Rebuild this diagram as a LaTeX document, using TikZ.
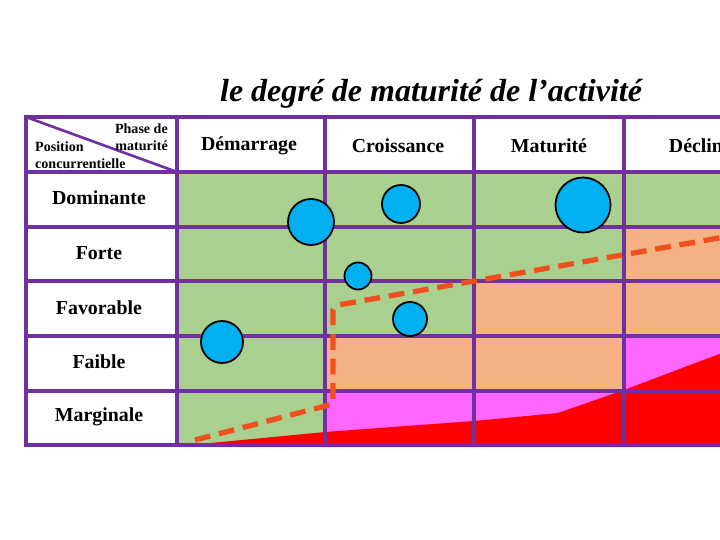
\documentclass[tikz,border=0pt]{standalone}
\usepackage{fontspec}
\setmainfont{Liberation Serif}
\begin{document}
\definecolor{grille}{RGB}{112,48,160}
\definecolor{vert}{RGB}{169,208,142}
\definecolor{saumon}{RGB}{244,177,131}
\definecolor{rose}{RGB}{255,102,255}
\definecolor{bleu}{RGB}{0,176,240}
\definecolor{tirets}{RGB}{240,80,30}
\begin{tikzpicture}[x=0.02cm, y=-0.02cm,
  entete/.style={font=\bfseries\fontsize{11.3}{13}\selectfont},
  ligne/.style={font=\bfseries\fontsize{11.3}{13}\selectfont},
  bulle/.style={circle, draw=black, line width=1pt, fill=bleu, inner sep=0pt}]

  %% Page and clipping.
  \useasboundingbox (0,0) rectangle (720,540);
  \clip (0,0) rectangle (720,540);

  %% Title.
  \node (titre) at (431,94)
  {\bfseries\itshape\fontsize{18.2}{21}\selectfont le degré de maturité de l’activité};


  %% Cell fills.
  \fill[vert] (177,172) rectangle (730,445);
  \fill[saumon] (325,336) rectangle (474,391);
  \fill[saumon] (474,281) rectangle (624,391);
  \fill[saumon] (624,227) rectangle (730,336);
  \fill[rose] (325,391) rectangle (624,445);
  \fill[rose] (624,336) rectangle (730,445);
  \fill[red] (190,445) -- (325,432) -- (474,421) -- (558,413) -- (624,390)
  -- (730,350) -- (730,445) -- cycle;


  %% The grid.
  \draw[grille, line width=2.2pt] (26,117) rectangle (730,445);
  \foreach \x in {177,325,474,624}
    \draw[grille, line width=2.2pt] (\x,117) -- (\x,445);
  \foreach \y in {172,227,281,336,391}
    \draw[grille, line width=2.2pt] (26,\y) -- (730,\y);
  \draw[grille, line width=1.5pt] (26,117) -- (177,172);


  %% Header texts.
  \node[anchor=east, font=\bfseries\fontsize{8}{9.5}\selectfont, align=right]
  (phase) at (174,137) {Phase de\\maturité};
  \node[anchor=west, font=\bfseries\fontsize{8}{9.5}\selectfont, align=left]
  (position) at (29,155) {Position\\concurrentielle};
  \node[entete] (demarrage) at (249,146) {Démarrage};
  \node[entete] (croissance) at (398,146) {Croissance};
  \node[entete] (maturite) at (549,146) {Maturité};
  \node[entete] (declin) at (696,146) {Déclin};

  \node[ligne] (dominante) at (99,198) {Dominante};
  \node[ligne] (forte) at (99,253) {Forte};
  \node[ligne] (favorable) at (99,308) {Favorable};
  \node[ligne] (faible) at (99,362) {Faible};
  \node[ligne] (marginale) at (99,417) {Marginale};


  %% Dashed boundary.
  \draw[tirets, line width=3pt, dash pattern=on 9pt off 5pt]
  (195,440) -- (333,404) -- (333,310) -- (338,305) -- (730,236);


  %% Bubbles.
  \node[bulle, minimum size=46*0.02cm] (b1) at (311,222) {};
  \node[bulle, minimum size=38*0.02cm] (b2) at (401,204) {};
  \node[bulle, minimum size=55*0.02cm] (b3) at (583,205) {};
  \node[bulle, minimum size=27*0.02cm] (b4) at (358,276) {};
  \node[bulle, minimum size=34*0.02cm] (b5) at (410,319) {};
  \node[bulle, minimum size=42*0.02cm] (b6) at (222,342) {};

\end{tikzpicture}
\end{document}
